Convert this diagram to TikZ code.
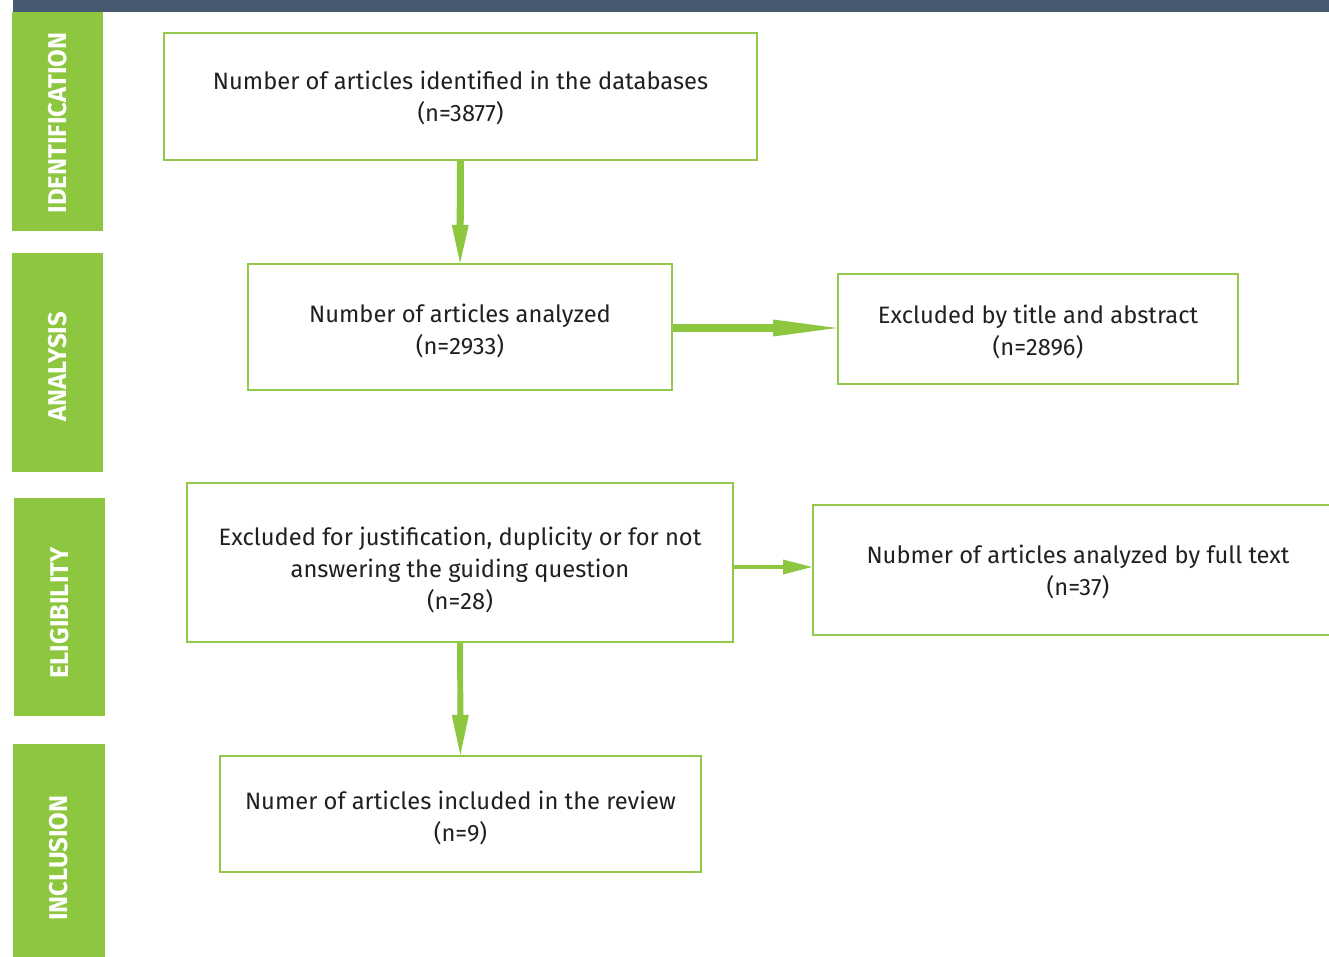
\documentclass[tikz,border=0pt]{standalone}
\usepackage{fontspec}
\setmainfont{Fira Sans}
\usepackage{tikz}
\usetikzlibrary{arrows.meta}

\definecolor{barGreen}{HTML}{8DC63F}
\definecolor{lineGreen}{HTML}{92C94A}
\definecolor{topSlate}{HTML}{46596E}
\definecolor{textGray}{HTML}{231F20}

\begin{document}
\begin{tikzpicture}[x=0.02cm,y=-0.02cm,
    phase/.style={fill=barGreen,draw=none},
    phaselabel/.style={rotate=90,text=white,font=\fontsize{14.6}{16}\selectfont\bfseries},
    stagebox/.style={draw=lineGreen,line width=1.2pt,inner sep=0pt},
    boxtext/.style={align=center,text=textGray,inner sep=0pt,
      font=\fontsize{13.5}{18.2}\selectfont},
    flow/.style={draw=barGreen,line width=#1},
  ]
    \useasboundingbox (0,0) rectangle (1329,957);
    % top bar
    \fill[topSlate] (13,0) rectangle (1329,12);
    % phases on the left
    \fill[phase] (12,12) rectangle (103,231);
    \fill[phase] (12,253) rectangle (103,472);
    \fill[phase] (14,498) rectangle (105,716);
    \fill[phase] (13,744) rectangle (105,957);
    \node[phaselabel] (identification) at (58,123) {IDENTIFICATION};
    \node[phaselabel] (analysis) at (58,367) {ANALYSIS};
    \node[phaselabel] (eligibility) at (60,613) {ELIGIBILITY};
    \node[phaselabel] (inclusion) at (59,858) {INCLUSION};

    % boxes
    \node[stagebox,minimum width=11.86cm,minimum height=2.54cm,
      label={[boxtext,yshift=-0.03cm]center:Number of articles identified in the databases\\(n=3877)}]
      (found) at (460.5,96.5) {};
    \node[stagebox,minimum width=8.48cm,minimum height=2.52cm,
      label={[boxtext,yshift=-0.08cm]center:Number of articles analyzed\\(n=2933)}]
      (analyzed) at (460,327) {};
    \node[stagebox,minimum width=8cm,minimum height=2.2cm,
      label={[boxtext,yshift=-0.06cm]center:Excluded by title and abstract\\(n=2896)}]
      (titleout) at (1038,329) {};
    \node[stagebox,minimum width=10.92cm,minimum height=3.18cm,
      label={[boxtext,yshift=-0.14cm]center:Excluded for justification, duplicity or for not\\answering the guiding question\\(n=28)}]
      (justout) at (460,562.5) {};
    \node[stagebox,minimum width=10.6cm,minimum height=2.6cm,
      label={[boxtext,yshift=-0.04cm]center:Nubmer of articles analyzed by full text\\(n=37)}]
      (fulltext) at (1078,570) {};
    \node[stagebox,minimum width=9.62cm,minimum height=2.32cm,
      label={[boxtext,yshift=-0.08cm]center:Numer of articles included in the review\\(n=9)}]
      (included) at (460.5,814) {};

    % connectors
    \draw[flow=4pt,-{Triangle[length=0.76cm,width=0.34cm,line width=0pt]}] (found) -- (analyzed);
    \draw[flow=4pt,-{Triangle[length=1.28cm,width=0.34cm,line width=0pt]}] (analyzed.east |- 0,328) -- (titleout.west |- 0,328);
    \draw[flow=2.4pt,-{Triangle[length=0.58cm,width=0.3cm,line width=0pt]}] (justout.east |- 0,567) -- (fulltext.west |- 0,567);
    \draw[flow=3.4pt,-{Triangle[length=0.8cm,width=0.34cm,line width=0pt]}] (justout) -- (included);
\end{tikzpicture}
\end{document}
